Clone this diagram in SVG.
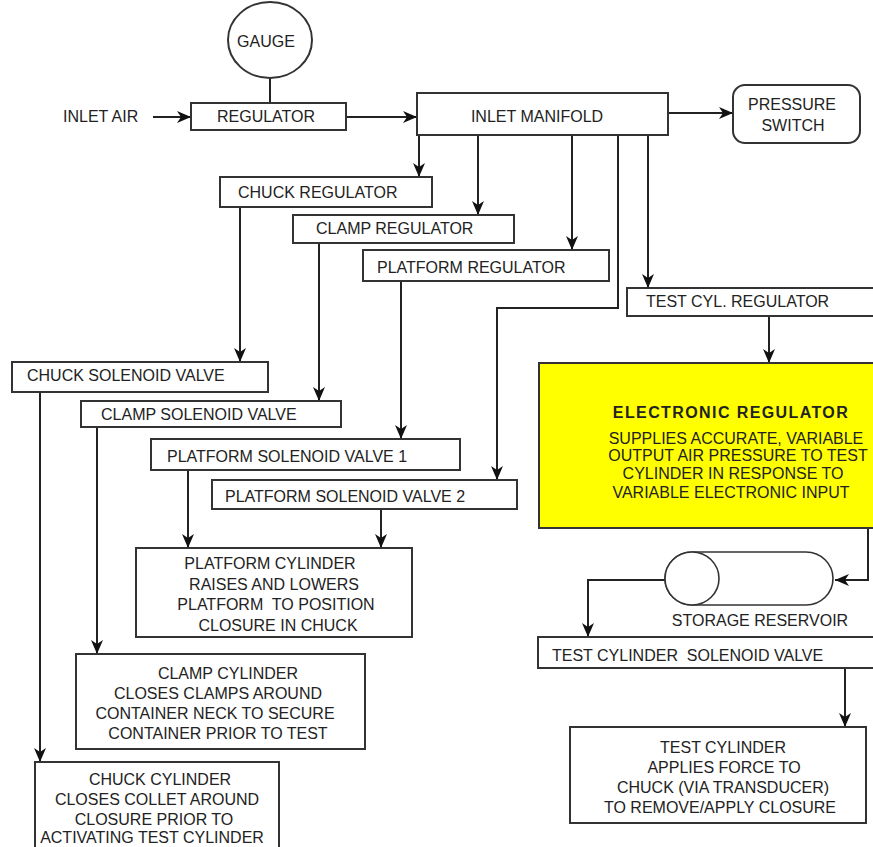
<svg xmlns="http://www.w3.org/2000/svg" width="873" height="847" viewBox="0 0 873 847">
<style>
.b{fill:#fff;stroke:#333;stroke-width:2}
.y{fill:#ffff00;stroke:#333;stroke-width:2}
.c{fill:none;stroke:#222;stroke-width:2}
text{font-family:"Liberation Sans",Arial,sans-serif;font-size:16px;fill:#222}
.m{text-anchor:middle}
.t{font-weight:bold;letter-spacing:1.4px}
</style>
<defs>
<marker id="a" markerUnits="userSpaceOnUse" viewBox="0 0 14 12" refX="14" refY="6" markerWidth="14" markerHeight="12" orient="auto">
<path d="M0,0 L14,6 L0,12 L4,6 z" fill="#111"/>
</marker>
</defs>
<rect width="873" height="847" fill="#fff"/>
<g id="connectors">
<line class="c" x1="270" y1="78" x2="270" y2="103"/>
<line class="c" x1="153" y1="117" x2="191" y2="117" marker-end="url(#a)"/>
<line class="c" x1="346" y1="117" x2="417" y2="117" marker-end="url(#a)"/>
<line class="c" x1="668" y1="113" x2="733" y2="113" marker-end="url(#a)"/>
<line class="c" x1="419" y1="135" x2="419" y2="177" marker-end="url(#a)"/>
<line class="c" x1="478" y1="135" x2="478" y2="215" marker-end="url(#a)"/>
<line class="c" x1="572" y1="135" x2="572" y2="250" marker-end="url(#a)"/>
<path class="c" d="M618,135 V308 H497 V480" marker-end="url(#a)"/>
<line class="c" x1="648" y1="135" x2="648" y2="288" marker-end="url(#a)"/>
<line class="c" x1="769" y1="316" x2="769" y2="363" marker-end="url(#a)"/>
<path class="c" d="M868,528 V580 H835" marker-end="url(#a)"/>
<path class="c" d="M665,580 H588 V637" marker-end="url(#a)"/>
<line class="c" x1="845" y1="668" x2="845" y2="727" marker-end="url(#a)"/>
<line class="c" x1="240" y1="207" x2="240" y2="362" marker-end="url(#a)"/>
<line class="c" x1="319" y1="243" x2="319" y2="401" marker-end="url(#a)"/>
<line class="c" x1="401" y1="281" x2="401" y2="439" marker-end="url(#a)"/>
<line class="c" x1="188" y1="470" x2="188" y2="548" marker-end="url(#a)"/>
<line class="c" x1="381" y1="509" x2="381" y2="548" marker-end="url(#a)"/>
<line class="c" x1="40" y1="392" x2="40" y2="762" marker-end="url(#a)"/>
<line class="c" x1="97" y1="427" x2="97" y2="654" marker-end="url(#a)"/>
</g>
<g id="gauge"><ellipse class="b" cx="270" cy="40" rx="42" ry="38"/><text class="m" x="266" y="47">GAUGE</text></g>
<g id="inlet-air"><text x="63" y="122">INLET AIR</text></g>
<g id="regulator"><rect class="b" x="191" y="103" width="155" height="27"/><text class="m" x="266" y="122">REGULATOR</text></g>
<g id="inlet-manifold"><rect class="b" x="417" y="93" width="251" height="42"/><text class="m" x="537" y="122">INLET MANIFOLD</text></g>
<g id="pressure-switch"><rect class="b" x="733" y="85" width="127" height="58" rx="12"/><text class="m" x="792" y="110">PRESSURE</text><text class="m" x="793" y="131">SWITCH</text></g>
<g id="chuck-regulator"><rect class="b" x="220" y="177" width="212" height="30"/><text x="238" y="198">CHUCK REGULATOR</text></g>
<g id="clamp-regulator"><rect class="b" x="293" y="215" width="221" height="28"/><text x="316" y="234">CLAMP REGULATOR</text></g>
<g id="platform-regulator"><rect class="b" x="363" y="250" width="246" height="31"/><text x="377" y="273">PLATFORM REGULATOR</text></g>
<g id="test-cyl-regulator"><rect class="b" x="627" y="288" width="260" height="28"/><text x="646" y="307">TEST CYL. REGULATOR</text></g>
<g id="electronic-regulator"><rect class="y" x="539" y="363" width="340" height="165"/>
<text class="m t" x="731" y="418">ELECTRONIC REGULATOR</text>
<text class="m" x="736" y="444">SUPPLIES ACCURATE, VARIABLE</text>
<text class="m" x="738" y="461">OUTPUT AIR PRESSURE TO TEST</text>
<text class="m" x="733" y="479">CYLINDER IN RESPONSE TO</text>
<text class="m" x="731" y="498">VARIABLE ELECTRONIC INPUT</text></g>
<g id="storage-reservoir"><rect class="b" x="665" y="552" width="168" height="53" rx="27" ry="26.5" style="stroke-width:1.6"/><ellipse class="b" cx="692" cy="578.5" rx="27" ry="26.5" style="stroke-width:1.6"/><text class="m" x="760" y="626">STORAGE RESERVOIR</text></g>
<g id="test-cylinder-solenoid-valve"><rect class="b" x="538" y="637" width="340" height="31"/><text x="552" y="661" xml:space="preserve">TEST CYLINDER  SOLENOID VALVE</text></g>
<g id="test-cylinder"><rect class="b" x="570" y="727" width="296" height="96"/>
<text class="m" x="723" y="753">TEST CYLINDER</text>
<text class="m" x="724" y="773">APPLIES FORCE TO</text>
<text class="m" x="723" y="793">CHUCK (VIA TRANSDUCER)</text>
<text class="m" x="720" y="813">TO REMOVE/APPLY CLOSURE</text></g>
<g id="chuck-solenoid-valve"><rect class="b" x="12" y="362" width="256" height="30"/><text x="27" y="381">CHUCK SOLENOID VALVE</text></g>
<g id="clamp-solenoid-valve"><rect class="b" x="81" y="401" width="260" height="26"/><text x="101" y="420">CLAMP SOLENOID VALVE</text></g>
<g id="platform-solenoid-valve-1"><rect class="b" x="151" y="439" width="309" height="31"/><text x="167" y="462">PLATFORM SOLENOID VALVE 1</text></g>
<g id="platform-solenoid-valve-2"><rect class="b" x="212" y="480" width="305" height="29"/><text x="225" y="502">PLATFORM SOLENOID VALVE 2</text></g>
<g id="platform-cylinder"><rect class="b" x="136" y="548" width="276" height="89"/>
<text class="m" x="270" y="569">PLATFORM CYLINDER</text>
<text class="m" x="274" y="590">RAISES AND LOWERS</text>
<text class="m" x="276" y="610" xml:space="preserve">PLATFORM  TO POSITION</text>
<text class="m" x="278" y="631">CLOSURE IN CHUCK</text></g>
<g id="clamp-cylinder"><rect class="b" x="76" y="654" width="289" height="95"/>
<text class="m" x="228" y="679">CLAMP CYLINDER</text>
<text class="m" x="218" y="699">CLOSES CLAMPS AROUND</text>
<text class="m" x="215" y="719">CONTAINER NECK TO SECURE</text>
<text class="m" x="218" y="739">CONTAINER PRIOR TO TEST</text></g>
<g id="chuck-cylinder"><rect class="b" x="35" y="762" width="244" height="95"/>
<text class="m" x="160" y="785">CHUCK CYLINDER</text>
<text class="m" x="157" y="805">CLOSES COLLET AROUND</text>
<text class="m" x="154" y="825">CLOSURE PRIOR TO</text>
<text class="m" x="152" y="843">ACTIVATING TEST CYLINDER</text></g>
</svg>
